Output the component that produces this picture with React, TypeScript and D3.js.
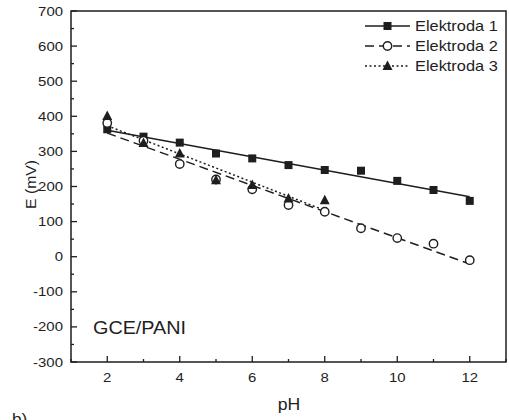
import React from "react";
import * as d3 from "d3";

const pH1 = [2, 3, 4, 5, 6, 7, 8, 9, 10, 11, 12];
const E1 = [363, 342, 325, 294, 280, 261, 247, 245, 216, 190, 159];
const pH2 = [2, 3, 4, 5, 6, 7, 8, 9, 10, 11, 12];
const E2 = [381, 330, 264, 220, 192, 147, 128, 81, 53, 37, -10];
const pH3 = [2, 3, 4, 5, 6, 7, 8];
const E3 = [401, 324, 294, 218, 204, 166, 161];
const seriesNames = ["Elektroda 1", "Elektroda 2", "Elektroda 3"];
const xTicks = [2, 4, 6, 8, 10, 12];
const yTicks = [-300, -200, -100, 0, 100, 200, 300, 400, 500, 600, 700];

const W = 509, H = 420;
const L = 71, R = 506, T = 11, B = 362;
const FONT = "Arial, 'Liberation Sans', Helvetica, sans-serif";
const INK = "#1e1e1e";

function fit(xs: number[], ys: number[]) {
  const mx = d3.mean(xs)!, my = d3.mean(ys)!;
  let sxy = 0, sxx = 0;
  xs.forEach((x, i) => { sxy += (x - mx) * (ys[i] - my); sxx += (x - mx) ** 2; });
  const b = sxy / sxx;
  const a = my - b * mx;
  return (x: number) => a + b * x;
}

function T_({ x, y, size, anchor = "start", sx = 1.15, rotate = 0, children }: any) {
  return (
    <text
      transform={`translate(${x},${y}) rotate(${rotate}) scale(${sx},1)`}
      fontSize={size}
      textAnchor={anchor}
      fill={INK}
    >
      {children}
    </text>
  );
}

export default function App() {
  const x = d3.scaleLinear().domain([1, 13]).range([L, R]);
  const y = d3.scaleLinear().domain([-300, 700]).range([B, T]);
  const line = d3.line<[number, number]>().x(d => x(d[0])).y(d => y(d[1]));

  const series = [
    { xs: pH1, ys: E1, dash: undefined as string | undefined, marker: "square" },
    { xs: pH2, ys: E2, dash: "9,5", marker: "circle" },
    { xs: pH3, ys: E3, dash: "2,2.5", marker: "triangle" },
  ];

  const marker = (type: string, cx: number, cy: number, key: any) => {
    if (type === "square") return <rect key={key} x={cx - 4} y={cy - 4} width={8} height={8} fill={INK} />;
    if (type === "circle") return <circle key={key} cx={cx} cy={cy} r={4.2} fill="white" stroke={INK} strokeWidth={1.4} />;
    return <path key={key} d={`M${cx},${cy - 5.5} L${cx + 5},${cy + 4} L${cx - 5},${cy + 4} Z`} fill={INK} />;
  };

  const xMinor = d3.range(1, 14, 1);
  const yMinor = d3.range(-300, 701, 50);

  return (
    <svg width={W} height={H} style={{ position: "absolute", left: 0, top: 0 }} fontFamily={FONT}>
      <rect x={0} y={0} width={W} height={H} fill="white" />
      {series.map((s, i) => {
        const f = fit(s.xs, s.ys);
        const x0 = d3.min(s.xs)!, x1 = d3.max(s.xs)!;
        return <path key={"l" + i} d={line([[x0, f(x0)], [x1, f(x1)]])!} fill="none" stroke={INK} strokeWidth={1.5} strokeDasharray={s.dash} />;
      })}
      {series.map((s, i) => s.xs.map((v, j) => marker(s.marker, x(v), y(s.ys[j]), `m${i}-${j}`)))}
      <rect x={L} y={T} width={R - L} height={B - T} fill="none" stroke={INK} strokeWidth={1.5} />
      {xMinor.map(v => (
        <line key={"xt" + v} x1={x(v)} x2={x(v)} y1={B} y2={B - (v % 2 === 0 ? 6 : 3)} stroke={INK} strokeWidth={1.3} />
      ))}
      {xTicks.map(v => (
        <T_ key={"xl" + v} x={x(v)} y={382} size={13} anchor="middle">{v}</T_>
      ))}
      {yMinor.map(v => (
        <line key={"yt" + v} x1={L} x2={L + (v % 100 === 0 ? 6 : 3)} y1={y(v)} y2={y(v)} stroke={INK} strokeWidth={1.3} />
      ))}
      {yTicks.map(v => (
        <T_ key={"yl" + v} x={63} y={y(v) + 4.5} size={13} anchor="end">{v}</T_>
      ))}
      <T_ x={289} y={410} size={16} anchor="middle" sx={1.1}>pH</T_>
      <T_ x={36} y={(T + B) / 2 - 2} size={15} anchor="middle" rotate={-90} sx={1.05}>E (mV)</T_>
      <T_ x={93} y={334} size={18} sx={1.1}>GCE/PANI</T_>
      <T_ x={12} y={424} size={15}>b)</T_>
      {series.map((s, i) => {
        const ly = 26 + i * 20;
        return (
          <g key={"lg" + i}>
            <line x1={365} x2={410} y1={ly} y2={ly} stroke={INK} strokeWidth={1.5} strokeDasharray={s.dash} />
            {marker(s.marker, 387.5, ly, "lm" + i)}
            <T_ x={415} y={ly + 5} size={14} sx={1.17}>{seriesNames[i]}</T_>
          </g>
        );
      })}
    </svg>
  );
}
